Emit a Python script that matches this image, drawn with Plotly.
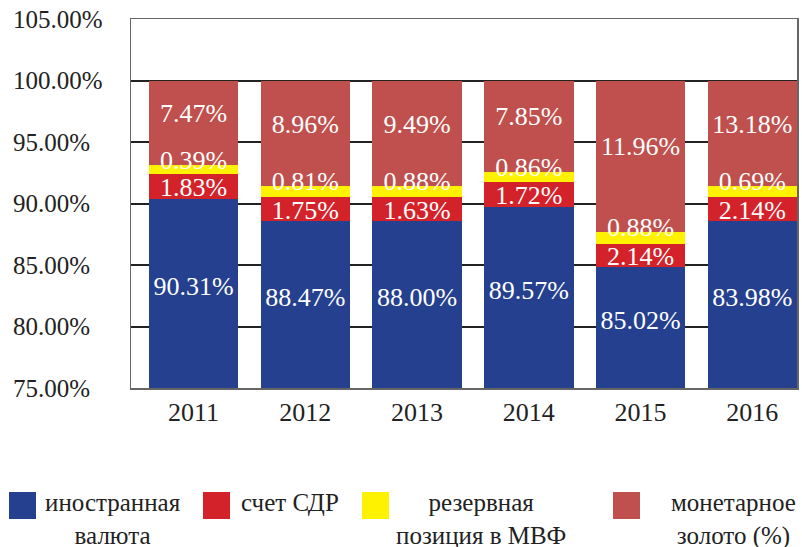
import plotly.graph_objects as go

years = ["2011", "2012", "2013", "2014", "2015", "2016"]

# segment heights as drawn in the picture (percentage points)
foreign_currency = [90.35, 88.58, 88.58, 89.70, 84.83, 88.58]
sdr_account = [2.03, 1.94, 1.91, 2.05, 1.91, 1.94]
imf_position = [0.74, 0.88, 0.91, 0.82, 0.96, 0.88]
monetary_gold = [6.88, 8.60, 8.60, 7.43, 12.30, 8.60]

# data labels printed on the bars
foreign_currency_labels = ["90.31%", "88.47%", "88.00%", "89.57%", "85.02%", "83.98%"]
sdr_account_labels = ["1.83%", "1.75%", "1.63%", "1.72%", "2.14%", "2.14%"]
imf_position_labels = ["0.39%", "0.81%", "0.88%", "0.86%", "0.88%", "0.69%"]
monetary_gold_labels = ["7.47%", "8.96%", "9.49%", "7.85%", "11.96%", "13.18%"]

y_tick_values = [75, 80, 85, 90, 95, 100, 105]
y_tick_labels = ["75.00%", "80.00%", "85.00%", "90.00%", "95.00%", "100.00%", "105.00%"]

series_names = ["иностранная<br>валюта", "счет СДР", "резервная<br>позиция в МВФ", "монетарное<br>золото (%)"]
colors = ["#25408F", "#D3222A", "#FFF200", "#C0504D"]

FONT = "Liberation Serif, Times New Roman, serif"
W, H = 802, 547
ML, MR, MT, MB = 131, 5, 19, 159
PW, PH = W - ML - MR, H - MT - MB
Y_MIN, Y_MAX = 75, 105


def px_x(p):
    return (p - ML) / PW


def px_y(p):
    return (H - MB - p) / PH


fig = go.Figure()
series = [foreign_currency, sdr_account, imf_position, monetary_gold]
for vals, name, col in zip(series, series_names, colors):
    fig.add_trace(go.Bar(
        x=years, y=vals, name=name, marker=dict(color=col, line=dict(width=0)),
        width=0.8, showlegend=False, hoverinfo="skip",
    ))

# label positions derived from the stacked values
n = len(years)
top1 = [foreign_currency[i] for i in range(n)]
top2 = [top1[i] + sdr_account[i] for i in range(n)]
top3 = [top2[i] + imf_position[i] for i in range(n)]
top4 = [top3[i] + monetary_gold[i] for i in range(n)]
label_sets = [
    ([(Y_MIN + top1[i]) / 2 + 0.4 for i in range(n)], foreign_currency_labels),
    ([(top1[i] + top2[i]) / 2 - 0.25 for i in range(n)], sdr_account_labels),
    ([top3[i] + 0.2 for i in range(n)], imf_position_labels),
    ([(top3[i] + top4[i]) / 2 + 0.6 for i in range(n)], monetary_gold_labels),
]
for ys, labs in label_sets:
    fig.add_trace(go.Scatter(
        x=years, y=ys, mode="text", text=labs, textposition="middle center",
        textfont=dict(family=FONT, size=26, color="#FFFFFF"),
        showlegend=False, hoverinfo="skip",
    ))

fig.update_layout(
    width=W, height=H, barmode="stack",
    margin=dict(l=ML, r=MR, t=MT, b=MB, autoexpand=False),
    paper_bgcolor="white", plot_bgcolor="white",
    font=dict(family=FONT, color="#222222"),
)
fig.update_xaxes(
    range=[-0.56, 5.40], showgrid=False, showline=True, mirror=True,
    linecolor="#666666", linewidth=1.5, ticks="", automargin=False,
    tickfont=dict(family=FONT, size=26, color="#222222"),
    ticklabelstandoff=0, ticklabeloverflow="allow",
)
padded = [t + ("\u2007" if len(t) < 7 else "") for t in y_tick_labels]
fig.update_yaxes(
    range=[Y_MIN, Y_MAX], tickvals=y_tick_values, ticktext=padded,
    showgrid=True, gridcolor="#222222", gridwidth=2,
    showline=True, mirror=True, linecolor="#666666", linewidth=1.5,
    ticks="", zeroline=False, automargin=False,
    tickfont=dict(family=FONT, size=25, color="#222222"),
    ticklabelstandoff=22, ticklabeloverflow="allow",
)

# custom legend
sq_left = [9, 203, 362, 613]
text_center = [112.5, 289.5, 481, 733]
for name, col, sl, tc in zip(series_names, colors, sq_left, text_center):
    fig.add_shape(type="rect", xref="paper", yref="paper",
                  x0=px_x(sl), x1=px_x(sl + 27), y0=px_y(492), y1=px_y(519),
                  fillcolor=col, line=dict(width=0))
    fig.add_annotation(xref="paper", yref="paper", x=px_x(tc), y=px_y(487),
                       xanchor="center", yanchor="top", align="center",
                       text=name, showarrow=False,
                       font=dict(family=FONT, size=25, color="#222222"))

fig.write_html(
    "out.html",
    config={"displayModeBar": False, "staticPlot": True},
    post_script="document.body.style.margin='0';document.body.style.overflow='hidden';",
)
